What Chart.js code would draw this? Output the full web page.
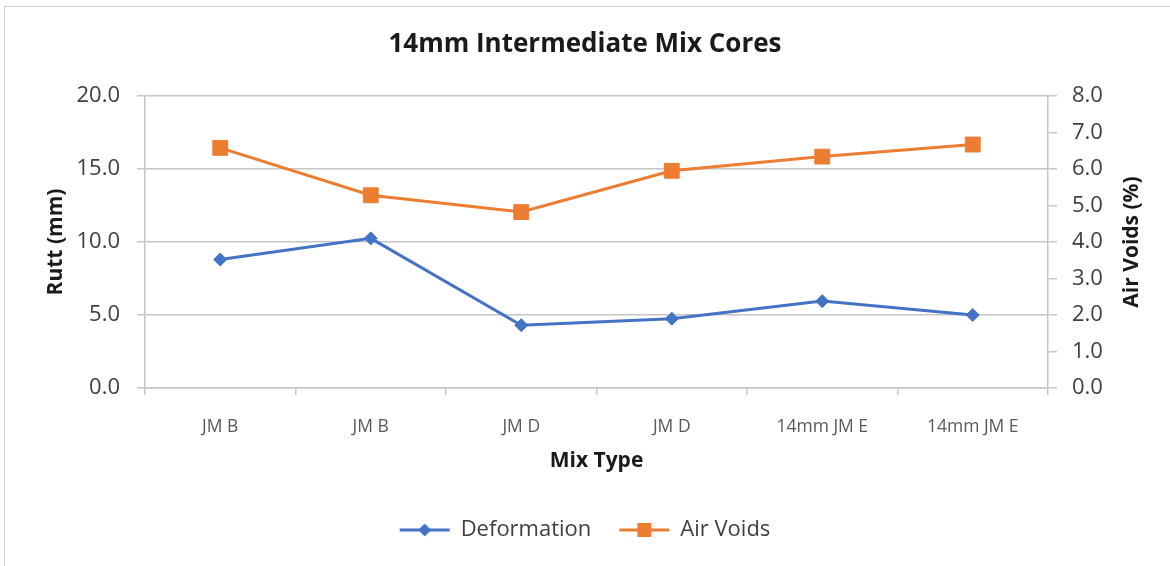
<!DOCTYPE html>
<html lang="en">
<head>
    <meta charset="UTF-8">
    <title>14mm Intermediate Mix Cores</title>
    <script src="https://cdn.jsdelivr.net/npm/chart.js"></script>
    <style>
        html, body {
            margin: 0;
            padding: 0;
            background: #fff;
            overflow: hidden;
        }
        #wrap {
            position: relative;
            width: 1170px;
            height: 566px;
        }
        #frame {
            position: absolute;
            left: 4px;
            top: 6px;
            width: 1200px;
            height: 600px;
            border-left: 1px solid #d0d0d0;
            border-top: 1px solid #d0d0d0;
        }
        canvas {
            position: absolute;
            left: 0;
            top: 0;
        }
    </style>
</head>
<body>
    <div id="wrap">
        <div id="frame"></div>
        <canvas id="mixChart" width="1170" height="566"></canvas>
    </div>

    <script>
        const mixTypes = ['JM B', 'JM B', 'JM D', 'JM D', '14mm JM E', '14mm JM E'];
        const deformation = [8.8, 10.25, 4.3, 4.75, 5.95, 5.0];   // Rutt (mm)
        const airVoids = [6.58, 5.28, 4.82, 5.95, 6.34, 6.67];     // Air Voids (%)

        const blue = '#4472C4';
        const orange = '#ED7D31';
        const gridGray = '#c6c6c6';
        const font = 'Open Sans';

        // legend swatch: line with marker through it, like the spreadsheet one
        function swatch(color, shape) {
            const c = document.createElement('canvas');
            c.width = 52;
            c.height = 18;
            const ctx = c.getContext('2d');
            ctx.strokeStyle = color;
            ctx.fillStyle = color;
            ctx.lineWidth = 3;
            ctx.beginPath();
            ctx.moveTo(1, 9);
            ctx.lineTo(51, 9);
            ctx.stroke();
            ctx.beginPath();
            if (shape === 'diamond') {
                ctx.moveTo(26, 2.5);
                ctx.lineTo(32.5, 9);
                ctx.lineTo(26, 15.5);
                ctx.lineTo(19.5, 9);
                ctx.closePath();
            } else {
                ctx.rect(19, 2, 14, 14);
            }
            ctx.fill();
            return c;
        }

        // right axis title reads bottom-to-top in the original, chart.js turns it the other way
        const rightTitle = {
            id: 'rightTitle',
            afterDraw(ch) {
                const s = ch.scales.y1;
                const ctx = ch.ctx;
                ctx.save();
                ctx.translate(s.right - 38, (ch.chartArea.top + ch.chartArea.bottom) / 2);
                ctx.rotate(-Math.PI / 2);
                ctx.font = 'bold 21px "' + font + '"';
                ctx.fillStyle = '#1a1a1a';
                ctx.textAlign = 'center';
                ctx.textBaseline = 'middle';
                ctx.fillText('Air Voids (%)', 0, 0);
                ctx.restore();
            }
        };

        const chart = new Chart(document.getElementById('mixChart'), {
            type: 'line',
            data: {
                labels: mixTypes,
                datasets: [{
                    label: 'Deformation',
                    data: deformation,
                    yAxisID: 'y',
                    borderColor: blue,
                    backgroundColor: blue,
                    borderWidth: 3,
                    pointStyle: 'rectRot',
                    pointRadius: 6.5,
                    pointBorderWidth: 1,
                    tension: 0
                }, {
                    label: 'Air Voids',
                    data: airVoids,
                    yAxisID: 'y1',
                    borderColor: orange,
                    backgroundColor: orange,
                    borderWidth: 3,
                    pointStyle: 'rect',
                    pointRadius: 10.5,
                    pointBorderWidth: 1,
                    tension: 0
                }]
            },
            plugins: [rightTitle],
            options: {
                responsive: false,
                animation: false,
                layout: { padding: { top: 0, left: 0, right: 0, bottom: 15 } },
                plugins: {
                    tooltip: { enabled: false },
                    title: {
                        display: true,
                        text: '14mm Intermediate Mix Cores',
                        color: '#1a1a1a',
                        font: { family: font, size: 26, weight: 'bold' },
                        padding: { top: 29.4, bottom: 35.4 }
                    },
                    legend: {
                        position: 'bottom',
                        labels: {
                            usePointStyle: true,
                            pointStyleWidth: 50,
                            padding: 28,
                            color: '#404040',
                            font: { family: font, size: 22 },
                            generateLabels: (ch) => ch.data.datasets.map((ds, i) => ({
                                text: ds.label,
                                datasetIndex: i,
                                pointStyle: swatch(ds.borderColor, i === 0 ? 'diamond' : 'square'),
                                fillStyle: ds.borderColor,
                                strokeStyle: ds.borderColor,
                                fontColor: '#404040',
                                lineWidth: 0,
                                hidden: false
                            }))
                        }
                    }
                },
                scales: {
                    x: {
                        offset: true,
                        afterFit: (s) => { s.height = 103; },
                        grid: {
                            offset: true,
                            drawOnChartArea: false,
                            drawTicks: true,
                            tickLength: 7,
                            color: gridGray,
                            lineWidth: 1.5
                        },
                        border: { color: gridGray, width: 1.5 },
                        ticks: {
                            color: '#595959',
                            padding: 22,
                            font: { family: font, size: 17.5 },
                            maxRotation: 0
                        },
                        title: {
                            display: true,
                            text: 'Mix Type',
                            color: '#1a1a1a',
                            font: { family: font, size: 21, weight: 'bold' },
                            padding: { top: 0, bottom: 17.4 }
                        }
                    },
                    y: {
                        position: 'left',
                        min: 0,
                        max: 20,
                        afterFit: (s) => { s.width = 145; },
                        grid: {
                            color: gridGray,
                            lineWidth: 1.5,
                            tickLength: 8
                        },
                        border: { color: gridGray, width: 1.5 },
                        ticks: {
                            stepSize: 5,
                            padding: 17,
                            color: '#404040',
                            font: { family: font, size: 22 },
                            callback: (v) => v.toFixed(1)
                        },
                        title: {
                            display: true,
                            text: 'Rutt (mm)',
                            color: '#1a1a1a',
                            font: { family: font, size: 21, weight: 'bold' },
                            padding: { top: 43, bottom: 0 }
                        }
                    },
                    y1: {
                        position: 'right',
                        min: 0,
                        max: 8,
                        afterFit: (s) => { s.width = 122; },
                        grid: {
                            drawOnChartArea: false,
                            color: gridGray,
                            lineWidth: 1.5,
                            tickLength: 9
                        },
                        border: { color: gridGray, width: 1.5 },
                        ticks: {
                            stepSize: 1,
                            padding: 15,
                            color: '#404040',
                            font: { family: font, size: 22 },
                            callback: (v) => v.toFixed(1)
                        },
                        title: { display: false }
                    }
                }
            }
        });
    </script>
</body>
</html>
